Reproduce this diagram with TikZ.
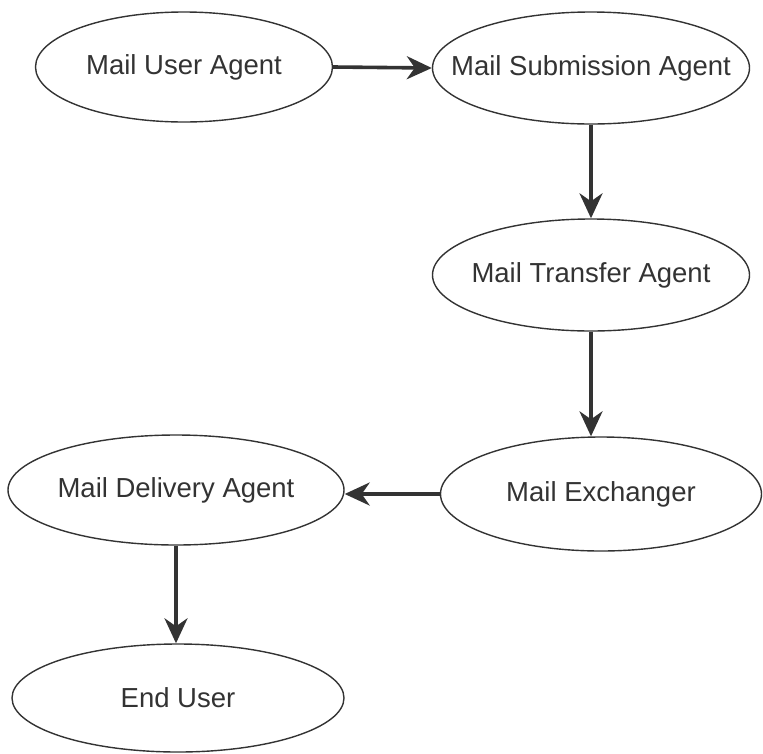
\documentclass[tikz,border=0pt]{standalone}
\usepackage{fontspec}
\setmainfont{Liberation Sans}
\usetikzlibrary{shapes.geometric,arrows.meta}
\definecolor{ink}{HTML}{333333}
\newcommand{\agentlabel}[1]{\makebox[0pt]{#1}}

\begin{document}
\begin{tikzpicture}[x=1pt, y=-1pt, shape=ellipse, inner sep=0pt, line width=1.4pt,
		agent/.style={draw=ink, text=ink, font=\fontsize{27.5}{32}\selectfont},
		flow/.style={draw=ink, line width=3.6pt, -{Stealth[length=25pt,width=23pt,inset=8pt]}}]
		\useasboundingbox (0,0) rectangle (763,753);
		\node (MUA) at (184, 67) [agent, minimum width=297pt, minimum height=110pt] {\agentlabel{Mail User Agent}};
		\node (MSA) at (591, 68) [agent, minimum width=317pt, minimum height=112pt] {\raisebox{5pt}{\agentlabel{Mail Submission Agent}}};
		\node (MTA) at (591,275) [agent, minimum width=317pt, minimum height=112pt] {\agentlabel{Mail Transfer Agent}};
		\node (MX)  at (601,494) [agent, minimum width=321pt, minimum height=114pt] {\agentlabel{Mail Exchanger}};
		\node (MDA) at (176,490) [agent, minimum width=336pt, minimum height=110pt] {\agentlabel{Mail Delivery Agent}};
		\node (EU)  at (178,698) [agent, minimum width=332pt, minimum height=108pt] {\agentlabel{End User}};
		\draw[flow] (MUA.east) -- (MSA.west);
		\draw[flow] (MSA.south) -- (MTA.north);
		\draw[flow] (MTA.south) -- (MTA.south |- MX.north);
		\draw[flow] (MX.west) -- (MX.west -| MDA.east);
		\draw[flow] (MDA.south) -- (MDA.south |- EU.north);
\end{tikzpicture}
\end{document}
